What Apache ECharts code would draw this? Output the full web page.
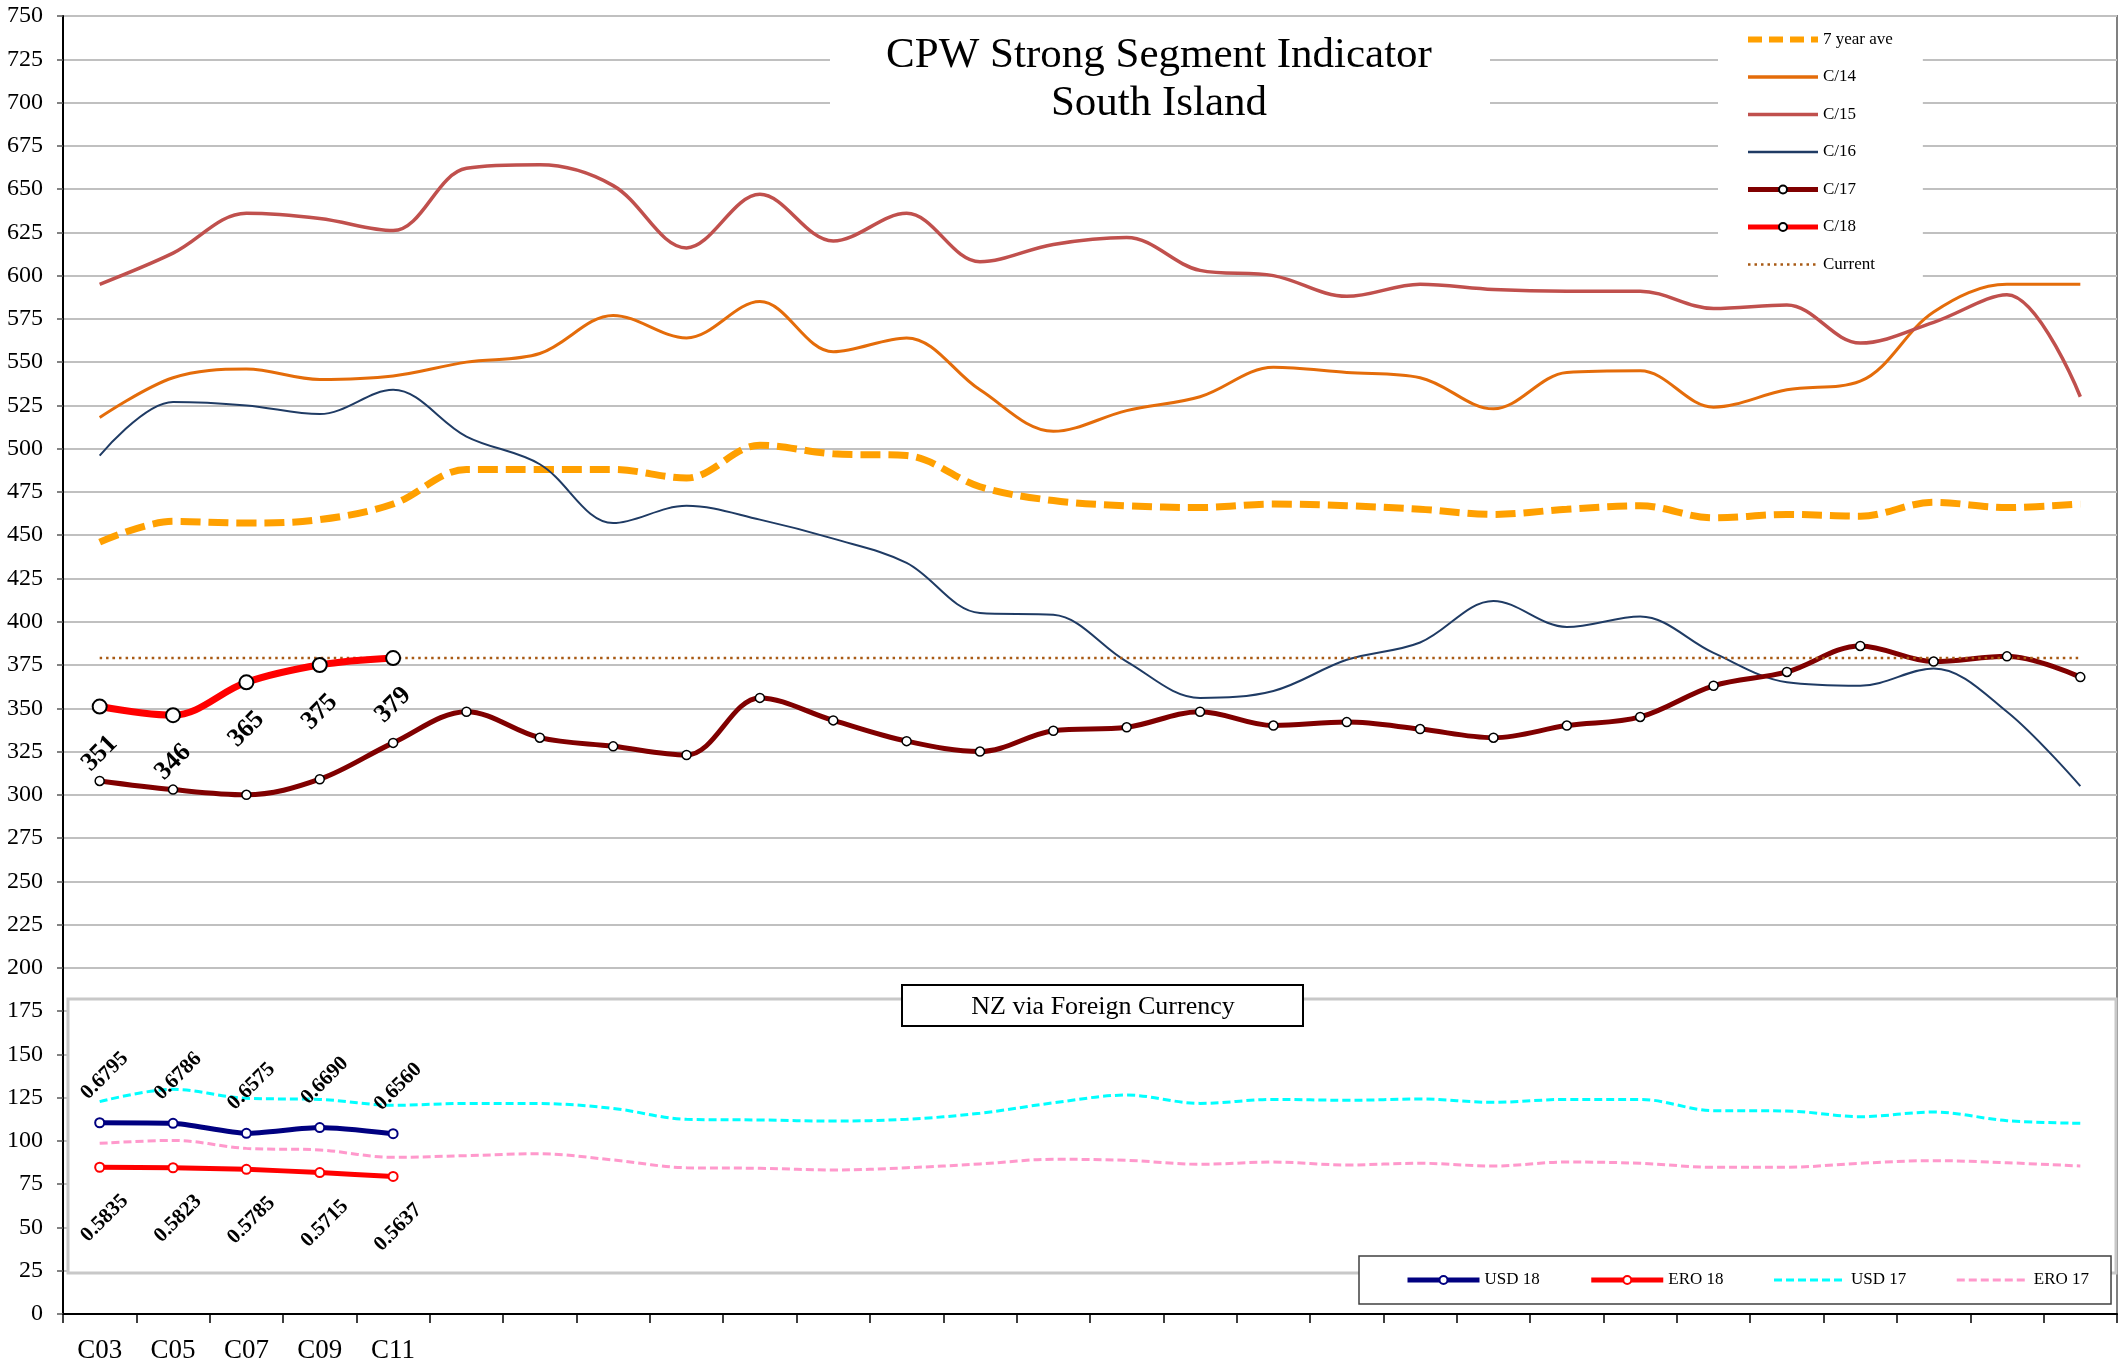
<!DOCTYPE html>
<html>
<head>
<meta charset="utf-8">
<script src="https://cdn.jsdelivr.net/npm/echarts@6/dist/echarts.min.js"></script>
<style>html,body{margin:0;padding:0;background:#fff;}#main{width:2123px;height:1366px;}</style>
</head>
<body>
<div id="main"></div>
<script>
const categories = ['C03','C05','C07','C09','C11','','','','','','','','','','','','','','','','','','','','','','',''];
const sevenYearAve = [446,458,457,459,468,488,488,488,483,502,497,496,478,470,467,466,468,467,465,462,465,467,460,462,461,469,466,468];
const c14 = [518,541,546,540,542,550,555,577,564,585,556,564,534,510,522,530,547,544,541,523,544,545,524,534,539,579,595,595];
const c15 = [595,613,636,633,626,662,664,652,616,647,620,636,608,618,622,603,600,588,595,592,591,591,581,583,561,573,589,530];
const c16 = [496,527,525,520,534,507,491,457,467,459,448,434,405,404,377,356,360,378,388,412,397,403,382,365,363,373,348,305];
const c17 = [308,303,300,309,330,348,333,328,323,356,343,331,325,337,339,348,340,342,338,333,340,345,363,371,386,377,380,368];
const c18 = [351,346,365,375,379];
const current = [379,379,379,379,379,379,379,379,379,379,379,379,379,379,379,379,379,379,379,379,379,379,379,379,379,379,379,379];
const usd18 = [110.5,110.2,104.4,107.7,104.2];
const ero18 = [84.8,84.5,83.6,81.7,79.5];
const usd17 = [122.7,129.8,124.6,124.0,120.6,121.7,121.6,118.8,112.5,112.1,111.5,112.5,116.0,122.0,126.5,121.7,124.0,123.5,124.2,122.3,124.0,124.0,117.5,117.3,114.0,116.7,111.7,110.2];
const ero17 = [98.6,100.3,95.7,94.8,90.5,91.5,92.6,89.0,84.5,84.2,83.2,84.5,86.7,89.4,88.8,86.5,87.8,86.1,87.1,85.5,87.8,87.1,84.8,84.8,87.1,88.6,87.4,85.5];
const usdRates = ['0.6795','0.6786','0.6575','0.6690','0.6560'];
const eroRates = ['0.5835','0.5823','0.5785','0.5715','0.5637'];
const yTicks = {min: 0, max: 750, interval: 25};

const FONT = 'Liberation Serif';
const SM = 0.35;
const chart = echarts.init(document.getElementById('main'), null, {renderer: 'canvas'});

function lineSeries(name, data, color, width, extra) {
  return Object.assign({
    name: name, type: 'line', data: data, smooth: SM, symbol: 'none',
    lineStyle: {color: color, width: width}, itemStyle: {color: color},
    emphasis: {disabled: true}
  }, extra || {});
}

const option = {
  animation: false,
  backgroundColor: '#fff',
  title: [
    {text: 'CPW Strong Segment Indicator\nSouth Island', left: 1159, top: 32, textAlign: 'center', padding: 0,
     textStyle: {fontFamily: FONT, fontSize: 43, fontWeight: 'normal', lineHeight: 48, color: '#000'}},
    {text: 'NZ via Foreign Currency', left: 1103, top: 993, textAlign: 'center', padding: 0,
     textStyle: {fontFamily: FONT, fontSize: 26, fontWeight: 'normal', lineHeight: 28, color: '#000'}}
  ],
  graphic: [
    {type: 'rect', z: 1, shape: {x: 830, y: 36, width: 660, height: 84}, style: {fill: '#fff'}},
    {type: 'rect', z: 1, shape: {x: 68, y: 999, width: 2048, height: 274}, style: {fill: '#fff', stroke: '#C8C8C8', lineWidth: 3}},
    {type: 'rect', z: 3, shape: {x: 902, y: 985, width: 401, height: 41}, style: {fill: '#fff', stroke: '#000', lineWidth: 2}}
  ],
  legend: [
    {orient: 'vertical', left: 1718, top: 19.5, padding: [10, 30, 22, 27], itemWidth: 70, itemHeight: 10, itemGap: 17.5,
     backgroundColor: '#fff', selectedMode: false,
     textStyle: {fontFamily: FONT, fontSize: 17, lineHeight: 20, color: '#000'},
     data: [
       {name: '7 year ave', itemStyle: {opacity: 0}, lineStyle: {width: 6, type: [14, 7]}},
       {name: 'C/14', itemStyle: {opacity: 0}, lineStyle: {width: 3.5}},
       {name: 'C/15', itemStyle: {opacity: 0}, lineStyle: {width: 3.5}},
       {name: 'C/16', itemStyle: {opacity: 0}, lineStyle: {width: 2.5}},
       {name: 'C/17', lineStyle: {width: 5}},
       {name: 'C/18', lineStyle: {width: 5}},
       {name: 'Current', itemStyle: {opacity: 0}, lineStyle: {width: 2.5, type: [2.5, 4]}}
     ]},
    {orient: 'horizontal', left: 1359, top: 1256, padding: [14, 22, 14, 46], itemWidth: 72, itemHeight: 10, itemGap: 49,
     backgroundColor: '#fff', borderColor: '#404040', borderWidth: 1.5, selectedMode: false,
     textStyle: {fontFamily: FONT, fontSize: 17, lineHeight: 20, color: '#000'},
     data: [
       {name: 'USD 18', lineStyle: {width: 5}},
       {name: 'ERO 18', lineStyle: {width: 5}},
       {name: 'USD 17', itemStyle: {opacity: 0}, lineStyle: {width: 3, type: [8, 4]}},
       {name: 'ERO 17', itemStyle: {opacity: 0}, lineStyle: {width: 3, type: [8, 4]}}
     ]}
  ],
  grid: {left: 63, right: 6, top: 16, bottom: 52, show: true, borderColor: '#808080', borderWidth: 2, backgroundColor: 'transparent'},
  xAxis: {
    type: 'category', data: categories, boundaryGap: true,
    axisLine: {lineStyle: {color: '#000', width: 2}},
    axisTick: {show: true, interval: 0, length: 9, lineStyle: {color: '#000', width: 1.5}},
    axisLabel: {interval: 0, margin: 23, fontFamily: FONT, fontSize: 27, color: '#000'},
    splitLine: {show: false}
  },
  yAxis: {
    type: 'value', min: yTicks.min, max: yTicks.max, interval: yTicks.interval,
    axisLine: {show: true, lineStyle: {color: '#000', width: 2}},
    axisTick: {show: true, length: 6, lineStyle: {color: '#595959', width: 1.5}},
    axisLabel: {margin: 20, fontFamily: FONT, fontSize: 24, color: '#000'},
    splitLine: {show: true, lineStyle: {color: '#C0C0C0', width: 2}}
  },
  series: [
    lineSeries('ERO 17', ero17, '#FF99CC', 3, {lineStyle: {color: '#FF99CC', width: 3, type: [8, 4]}}),
    lineSeries('USD 17', usd17, '#00FFFF', 3, {lineStyle: {color: '#00FFFF', width: 3, type: [8, 4]}}),
    lineSeries('7 year ave', sevenYearAve, '#FFA000', 7, {lineStyle: {color: '#FFA000', width: 7, type: [20, 8]}}),
    lineSeries('C/14', c14, '#E46C0A', 3),
    lineSeries('C/15', c15, '#C0504D', 3.5),
    lineSeries('C/16', c16, '#1F3B64', 2),
    lineSeries('C/17', c17, '#800000', 5, {
      symbol: 'circle', symbolSize: 9, showSymbol: true,
      itemStyle: {color: '#fff', borderColor: '#000', borderWidth: 1.5}
    }),
    lineSeries('Current', current, '#A85A14', 2.5, {lineStyle: {color: '#A85A14', width: 2.5, type: [2.5, 4]}}),
    lineSeries('C/18', c18, '#FF0000', 7, {
      symbol: 'circle', symbolSize: 14, showSymbol: true,
      itemStyle: {color: '#fff', borderColor: '#000', borderWidth: 2},
      label: {show: true, position: ['50%', 7 + 48], rotate: 45, align: 'center', verticalAlign: 'middle',
        formatter: '{c}', fontFamily: FONT, fontSize: 26, fontWeight: 'bold', color: '#000'}
    }),
    lineSeries('USD 18', usd18, '#000080', 5, {
      smooth: 0.2, symbol: 'circle', symbolSize: 9, showSymbol: true,
      itemStyle: {color: '#fff', borderColor: '#000080', borderWidth: 2},
      label: {show: true, position: [4.5 + 6, 4.5 - 46], rotate: 45, align: 'center', verticalAlign: 'middle',
        formatter: function (p) { return usdRates[p.dataIndex]; }, fontFamily: FONT, fontSize: 21, fontWeight: 'bold', color: '#000'}
    }),
    lineSeries('ERO 18', ero18, '#FF0000', 5, {
      smooth: 0.2, symbol: 'circle', symbolSize: 9, showSymbol: true,
      itemStyle: {color: '#fff', borderColor: '#FF0000', borderWidth: 2},
      label: {show: true, position: [4.5 + 6, 4.5 + 52], rotate: 45, align: 'center', verticalAlign: 'middle',
        formatter: function (p) { return eroRates[p.dataIndex]; }, fontFamily: FONT, fontSize: 21, fontWeight: 'bold', color: '#000'}
    })
  ]
};
chart.setOption(option);
</script>
</body>
</html>
